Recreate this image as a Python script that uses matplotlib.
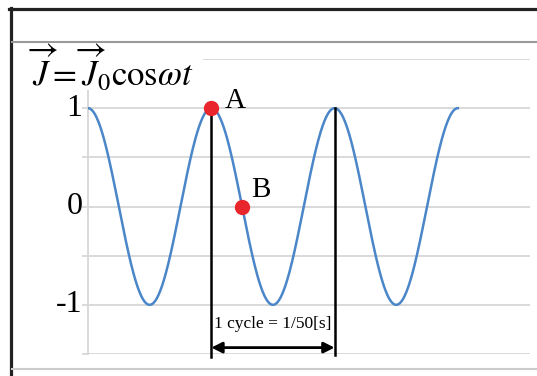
import numpy as np
import matplotlib
matplotlib.use("Agg")
import matplotlib.pyplot as plt
from matplotlib.lines import Line2D
from matplotlib.patches import Rectangle

plt.rcParams['mathtext.fontset'] = 'stix'

# ---- data ----
frequency_hz = 50.0
amplitude = 1.0
t_end = 0.06
t = np.linspace(0, t_end, 600)
J = amplitude * np.cos(2 * np.pi * frequency_hz * t)

point_A = (0.02, 1.0)
point_B = (0.025, 0.0)
cycle_start, cycle_end = 0.02, 0.04
ytick_vals = [1, 0, -1]
ytick_labels = ['1', '0', '-1']
grid_vals = [1.5, 1.0, 0.5, 0.0, -0.5, -1.0, -1.5]
cycle_label = '1 cycle = 1/50[s]'
title = r'$\overrightarrow{J}=\overrightarrow{J}_{0}\mathrm{cos}\omega t$'

W, H = 537, 376
fig = plt.figure(figsize=(W / 100, H / 100), dpi=100)
ax = fig.add_axes([88 / W, (H - 354) / H, 442 / W, 295 / H])
ax.set_xlim(0, 0.0717)
ax.set_ylim(-1.5, 1.5)

grid_c = '#d9d9d9'
for g in grid_vals:
    ax.axhline(g, color=grid_c, lw=1.4, zorder=1)
for s in ['top', 'right', 'bottom']:
    ax.spines[s].set_visible(False)
ax.spines['left'].set_color(grid_c)
ax.spines['left'].set_linewidth(1.4)
ax.set_yticks(grid_vals)
ax.set_yticklabels([])
ax.tick_params(axis='y', length=4, color=grid_c, width=1.4)
ax.set_xticks([])

for v, lab in zip(ytick_vals, ytick_labels):
    ax.text(-0.0009, v, lab, ha='right', va='center', fontsize=23,
            family='Liberation Serif', transform=ax.transData)

ax.plot(t, J, color='#4a86c8', lw=1.8, zorder=3)

# vertical marker lines
ax.plot([cycle_start, cycle_start], [1.0, -1.53], color='black', lw=1.8, clip_on=False, zorder=4)
ax.plot([cycle_end, cycle_end], [1.0, -1.51], color='black', lw=1.8, clip_on=False, zorder=4)
ax.annotate('', xy=(cycle_start, -1.435), xytext=(cycle_end, -1.435),
            arrowprops=dict(arrowstyle='<|-|>', color='black', lw=2,
                            mutation_scale=16, shrinkA=0, shrinkB=0), zorder=5)
ax.text((cycle_start + cycle_end) / 2, -1.2, cycle_label, ha='center', va='center',
        fontsize=12.5, family='Liberation Serif', zorder=5)

# points
ax.plot(*point_A, 'o', color='#e8262b', ms=10, zorder=6, clip_on=False)
ax.plot(*point_B, 'o', color='#e8262b', ms=10, zorder=6, clip_on=False)
ax.text(0.0221, 1.07, 'A', fontsize=21,
        family='Liberation Serif', ha='left', va='center')
ax.text(0.0265, 0.165, 'B', fontsize=21,
        family='Liberation Serif', ha='left', va='center')

# white cover behind title
fig.patches.append(Rectangle((13 / W, (H - 90) / H), 190 / W, 47 / H,
                             transform=fig.transFigure, facecolor='white',
                             edgecolor='none', zorder=2))
fig.text(28 / W, (H - 68) / H, title, fontsize=25, ha='left', va='center', zorder=3)

# frame lines
def fl(x0, y0, x1, y1, c, lw):
    fig.add_artist(Line2D([x0 / W, x1 / W], [(H - y0) / H, (H - y1) / H],
                          transform=fig.transFigure, color=c, lw=lw, zorder=4))

fl(10.5, 8, 10.5, 376, '#222222', 2.3)
fl(9, 8.5, 537, 8.5, '#222222', 2.3)
fl(12, 41.5, 537, 41.5, '#999999', 1.5)
fl(12, 369, 537, 369, '#cccccc', 1.5)

fig.savefig('out.png', dpi=100)
